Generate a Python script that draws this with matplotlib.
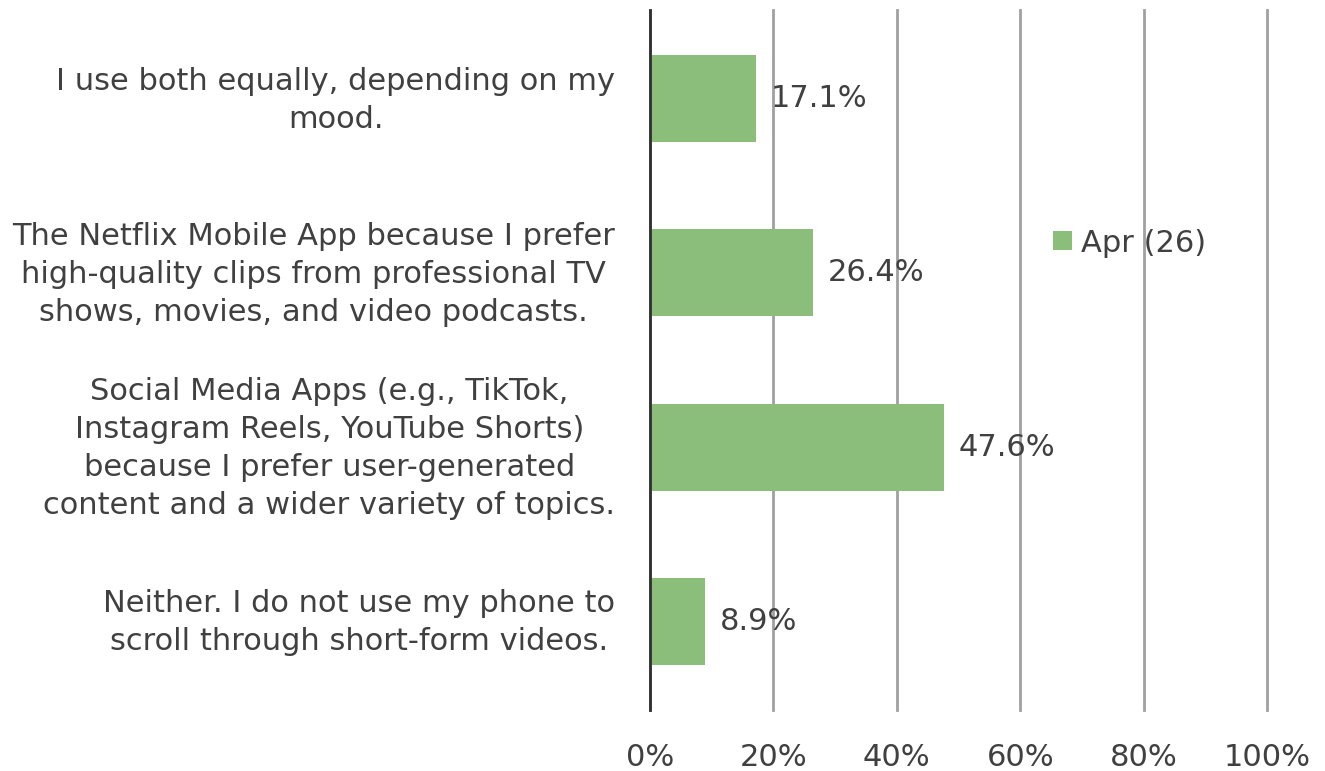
import matplotlib
matplotlib.use("Agg")
import matplotlib.pyplot as plt
import matplotlib.transforms as mtransforms
from matplotlib.patches import Patch

categories = [
    "I use both equally, depending on my\nmood.",
    "The Netflix Mobile App because I prefer\nhigh-quality clips from professional TV\nshows, movies, and video podcasts.",
    "Social Media Apps (e.g., TikTok,\nInstagram Reels, YouTube Shorts)\nbecause I prefer user-generated\ncontent and a wider variety of topics.",
    "Neither. I do not use my phone to\nscroll through short-form videos.",
]
values = [17.1, 26.4, 47.6, 8.9]
series_name = "Apr (26)"
xticks = [0, 20, 40, 60, 80, 100]

bar_color = "#8BBE7A"
text_color = "#404040"
fs = 22

plt.rcParams['font.family'] = ['DejaVu Sans']

fig = plt.figure(figsize=(13.25, 7.71), dpi=100)
ax = fig.add_axes([650/1325, 1 - 710/771, (1267-650)/1325, 700/771])

y = list(range(len(categories)))
ax.barh(y, values, height=0.5, color=bar_color, zorder=3)
ax.set_ylim(3.51, -0.51)
ax.set_xlim(0, 100)

for yi, v in zip(y, values):
    ax.annotate(f"{v:.1f}%", xy=(v, yi), xytext=(11, 0), textcoords="offset points",
                va="center", ha="left", fontsize=fs, color=text_color)

ax.set_xticks(xticks)
ax.set_xticklabels([f"{t}%" for t in xticks], fontsize=fs, color=text_color)
ax.set_yticks(y)
ax.set_yticklabels(categories, fontsize=fs, color=text_color, linespacing=1.39,
                   multialignment="center")
ax.tick_params(axis="y", length=0, pad=25)
ax.tick_params(axis="x", length=0, pad=24)

shift = mtransforms.ScaledTranslation(0, 6/100, fig.dpi_scale_trans)
for lbl in ax.get_yticklabels():
    lbl.set_transform(lbl.get_transform() + shift)

ax.xaxis.grid(True, color="#A0A0A0", linewidth=2, zorder=0)
for gl in ax.get_xgridlines():
    gl.set_clip_on(False)
for s in ["top", "right", "bottom"]:
    ax.spines[s].set_visible(False)
ax.spines["left"].set_color("#303030")
ax.spines["left"].set_linewidth(2)
ax.spines["left"].set_zorder(4)

handle = Patch(facecolor=bar_color, edgecolor="none")
leg = ax.legend([handle], [series_name], loc="center left",
                bbox_to_anchor=((1041-650)/617, 1 - (243-10)/700),
                frameon=False, fontsize=fs, handlelength=0.6, handleheight=0.6,
                handletextpad=0.3, borderaxespad=0)
for t in leg.get_texts():
    t.set_color(text_color)

fig.savefig("out.png", dpi=100)
